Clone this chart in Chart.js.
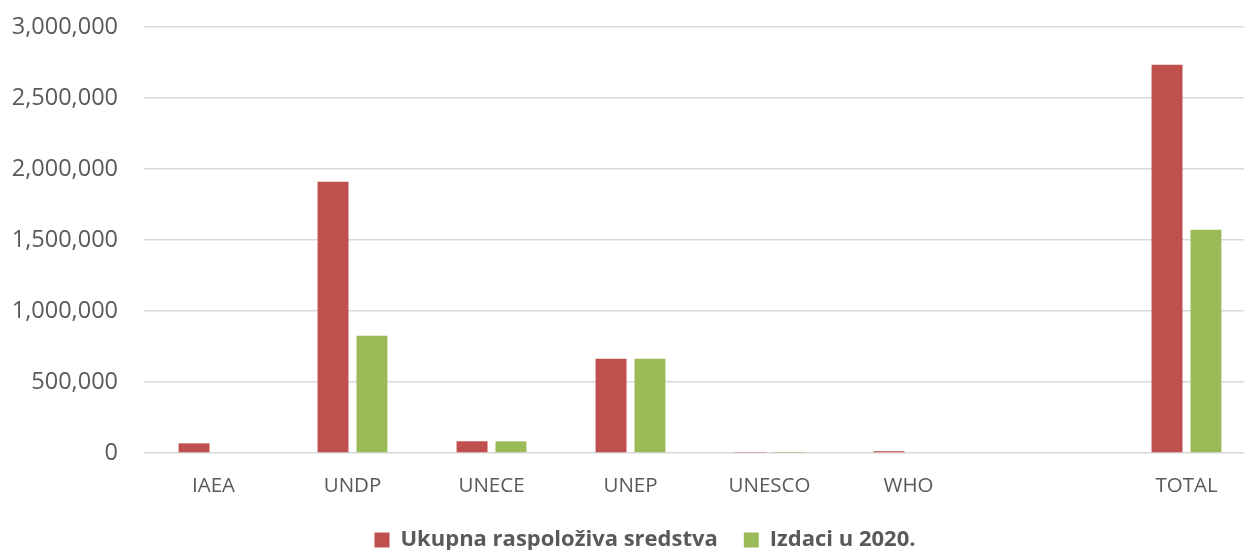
<!DOCTYPE html>
<html>
<head>
<meta charset="utf-8">
<script src="https://cdn.jsdelivr.net/npm/chart.js@4"></script>
<style>
  html, body { margin: 0; padding: 0; background: #fff; overflow: hidden; }
  #wrap { width: 1256px; height: 550px; position: relative; }
</style>
</head>
<body>
<div id="wrap"><canvas id="chart"></canvas></div>
<script>
// ── Data ──
const categories = ["IAEA", "UNDP", "UNECE", "UNEP", "UNESCO", "WHO", "", "TOTAL"];
const available = [68000, 1911000, 82500, 663000, 3000, 13000, null, 2735000];
const spent2020 = [0, 825000, 82000, 663000, 2000, 0, null, 1572000];
const seriesNames = ["Ukupna raspoloživa sredstva", "Izdaci u 2020."];

const FONT = "'Open Sans', sans-serif";
const GREY = "#595959";

// legend: fixed height, nudged right like the original
const legendFit = {
  id: "legendFit",
  beforeInit(chart) {
    const fit = chart.legend.fit;
    chart.legend.fit = function () {
      fit.call(this);
      this.height = 47;
    };
  },
  afterLayout(chart) {
    chart.legend.left += 17;
    chart.legend.right += 17;
  },
};

new Chart(document.getElementById("chart"), {
  type: "bar",
  data: {
    labels: categories,
    datasets: [
      { label: seriesNames[0], data: available, backgroundColor: "#C0504D" },
      { label: seriesNames[1], data: spent2020, backgroundColor: "#9BBB59" },
    ],
  },
  options: {
    responsive: true,
    maintainAspectRatio: false,
    animation: false,
    categoryPercentage: 0.56,
    barPercentage: 0.795,
    layout: { padding: { top: 27, left: 0, right: 0, bottom: 0 } },
    plugins: {
      tooltip: { enabled: false },
      legend: {
        position: "bottom",
        labels: {
          color: GREY,
          boxWidth: 15,
          boxHeight: 15,
          padding: 26,
          font: { family: FONT, size: 22, weight: "bold" },
        },
      },
    },
    scales: {
      x: {
        grid: { display: false },
        border: { display: false },
        ticks: { color: GREY, padding: 13, font: { family: FONT, size: 20.5 } },
        afterFit: (axis) => { axis.height = 50; },
      },
      y: {
        min: 0,
        max: 3000000,
        border: { display: false },
        grid: { color: "#d9d9d9", lineWidth: 1.5, drawTicks: false },
        ticks: {
          stepSize: 500000,
          color: GREY,
          padding: 26,
          font: { family: FONT, size: 23.5 },
          callback: (v) => v.toLocaleString("en-US"),
        },
        afterFit: (axis) => {
          axis.width = 144;
          axis.paddingTop = 0;
          axis.paddingBottom = 0;
        },
      },
    },
  },
  plugins: [legendFit],
});
</script>
</body>
</html>
